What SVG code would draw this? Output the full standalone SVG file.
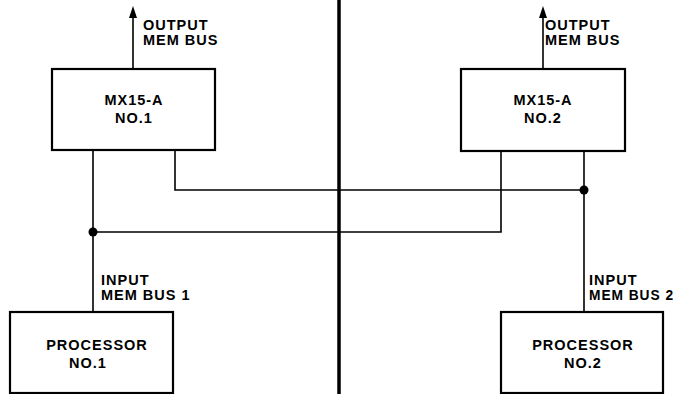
<svg xmlns="http://www.w3.org/2000/svg" width="678" height="394" viewBox="0 0 678 394">
<style>
.box{fill:#fff;stroke:#000;stroke-width:2.2}
.ln{fill:none;stroke:#000;stroke-width:1.6}
.t{font-family:"Liberation Sans",Arial,sans-serif;font-weight:bold;font-size:14.5px;letter-spacing:1px;fill:#000}
.c{text-anchor:middle}
</style>
<rect width="678" height="394" fill="#fff"/>
<g id="divider"><line x1="339" y1="0" x2="339" y2="394" stroke="#000" stroke-width="3.5"/></g>
<g id="connectors">
<line class="ln" x1="133" y1="69" x2="133" y2="17"/>
<path d="M129,18 L133,6 L137,18 Z" fill="#000"/>
<line class="ln" x1="543" y1="69" x2="543" y2="17"/>
<path d="M539,18 L543,6 L547,18 Z" fill="#000"/>
<polyline class="ln" points="93,150 93,312"/>
<polyline class="ln" points="93,232 501,232 501,150"/>
<polyline class="ln" points="175,150 175,190 584,190"/>
<polyline class="ln" points="584,150 584,312"/>
<circle cx="93" cy="232" r="4.5" fill="#000"/>
<circle cx="584" cy="190" r="4.5" fill="#000"/>
</g>
<g id="labels">
<text class="t" x="143" y="30">OUTPUT</text>
<text class="t" x="143" y="45">MEM BUS</text>
<text class="t" x="545" y="30">OUTPUT</text>
<text class="t" x="545" y="45">MEM BUS</text>
<text class="t" x="101" y="285">INPUT</text>
<text class="t" x="101" y="300">MEM BUS 1</text>
<text class="t" x="589" y="285">INPUT</text>
<text class="t" x="589" y="300" textLength="85" lengthAdjust="spacingAndGlyphs">MEM BUS 2</text>
</g>
<g id="mx1">
<rect class="box" x="52" y="69" width="163" height="81"/>
<text class="t c" x="134" y="105">MX15-A</text>
<text class="t c" x="134" y="123">NO.1</text>
</g>
<g id="mx2">
<rect class="box" x="461" y="69" width="164" height="82"/>
<text class="t c" x="543" y="105">MX15-A</text>
<text class="t c" x="543" y="123">NO.2</text>
</g>
<g id="proc1">
<rect class="box" x="10" y="312" width="163" height="81"/>
<text class="t c" x="97" y="350">PROCESSOR</text>
<text class="t c" x="88" y="368">NO.1</text>
</g>
<g id="proc2">
<rect class="box" x="501" y="312" width="162" height="81"/>
<text class="t c" x="583" y="350">PROCESSOR</text>
<text class="t c" x="583" y="368">NO.2</text>
</g>
</svg>
